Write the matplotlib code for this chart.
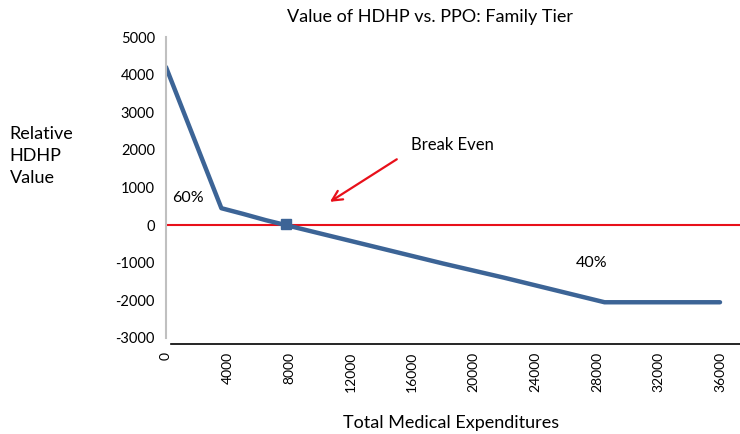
import matplotlib.pyplot as plt

plt.rcParams['font.family'] = ['Lato', 'DejaVu Sans']

# data
spend = [0, 3600, 5000, 6500, 7800, 10000, 14000, 18000, 22000, 26000, 28500, 32000, 36000]
value = [4200, 450, 300, 130, 0, -220, -620, -1020, -1400, -1800, -2050, -2050, -2050]
break_even = (7800, 20)
xticks = list(range(0, 36001, 4000))
yticks = list(range(-3000, 5001, 1000))

fig = plt.figure(figsize=(7.4, 4.34), dpi=100)
ax = fig.add_axes([0.2243, 0.2212, 0.7757, 0.6935])

ax.axhline(0, color='#e8101a', lw=1.5, zorder=1)
ax.plot(spend, value, color='#3c6496', lw=3.2, solid_capstyle='round', zorder=2)
ax.plot(*break_even, marker='s', ms=6.5, color='#3c6496', zorder=3)

ax.annotate('', xy=(10500, 580), xytext=(15150, 1790),
            arrowprops=dict(arrowstyle='->', color='#e8101a', lw=1.6,
                            mutation_scale=18))
ax.text(15900, 2130, 'Break Even', fontsize=12, va='center')
ax.text(400, 720, '60%', fontsize=11.5, va='center')
ax.text(26600, -1010, '40%', fontsize=11.5, va='center')

ax.set_xlim(0, 37300)
ax.set_ylim(-3000, 5000)
ax.set_xticks(xticks)
ax.set_xticklabels([str(t) for t in xticks], fontsize=10.5)
ax.set_yticks(yticks)
ax.set_yticklabels([str(t) for t in yticks], fontsize=10.5)
ax.tick_params(length=0, pad=8)
ax.tick_params(axis='x', pad=6, labelrotation=90)

for s in ['top', 'right']:
    ax.spines[s].set_visible(False)
ax.spines['left'].set_color('#c0c0c0')
ax.spines['left'].set_linewidth(1.5)
ax.spines['bottom'].set_color('black')
ax.spines['bottom'].set_linewidth(1.2)
ax.spines['bottom'].set_position(('outward', 4))
ax.spines['bottom'].set_bounds(300, 37300)

fig.text(0.581, 0.960, 'Value of HDHP vs. PPO: Family Tier', fontsize=13,
         ha='center', va='center')
fig.text(0.609, 0.025, 'Total Medical Expenditures', fontsize=13, ha='center', va='center')
fig.text(0.013, 0.640, 'Relative\nHDHP\nValue', fontsize=13, ha='left', va='center',
         linespacing=1.45)

fig.savefig('out.png', dpi=100)
